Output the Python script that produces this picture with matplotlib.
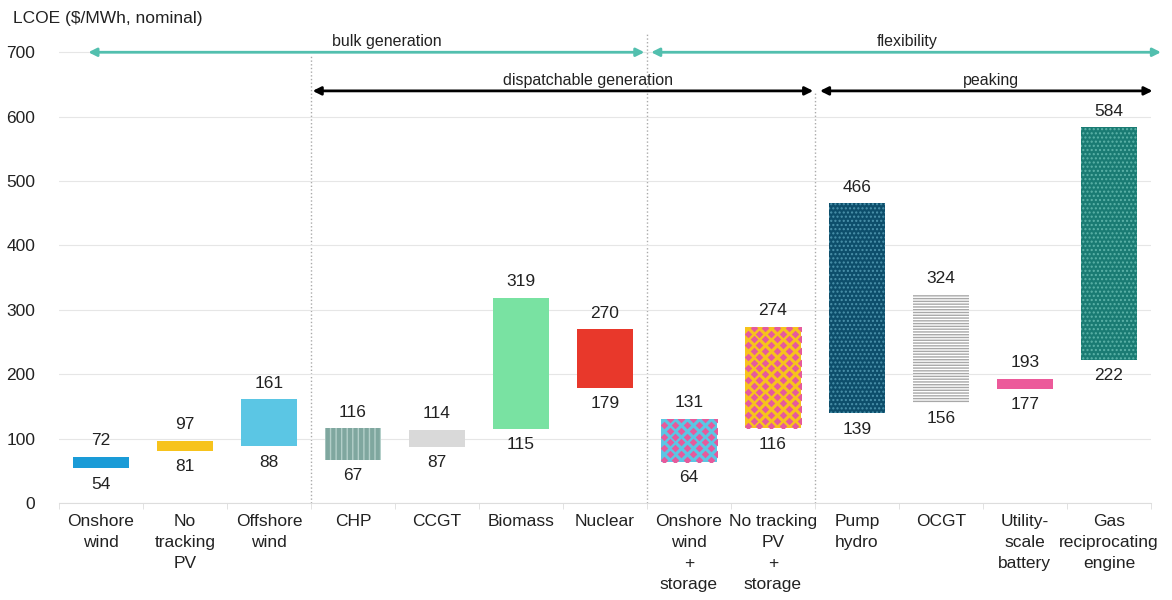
import numpy as np
import matplotlib
matplotlib.use("Agg")
import matplotlib.pyplot as plt

plt.rcParams['font.family'] = ['Liberation Sans', 'DejaVu Sans']
plt.rcParams['hatch.linewidth'] = 1.0

# data
categories = ["Onshore\nwind", "No\ntracking\nPV", "Offshore\nwind", "CHP", "CCGT",
              "Biomass", "Nuclear", "Onshore\nwind\n+\nstorage", "No tracking\nPV\n+\nstorage",
              "Pump\nhydro", "OCGT", "Utility-\nscale\nbattery", "Gas\nreciprocating\nengine"]
low = [54, 81, 88, 67, 87, 115, 179, 64, 116, 139, 156, 177, 222]
high = [72, 97, 161, 116, 114, 319, 270, 131, 274, 466, 324, 193, 584]

# styles: (face, hatch, hatch colour)
styles = [
    ("#1a9bd7", None, None),
    ("#f7c31c", None, None),
    ("#5bc6e4", None, None),
    ("#7fa79f", "|||", "#b3cfc9"),
    ("#d9d9d9", None, None),
    ("#79e2a2", None, None),
    ("#e8382b", None, None),
    ("#5bc6e4", "diamond", "#e65a9c"),
    ("#f7c31c", "diamond", "#e65a9c"),
    ("#0d4e6b", "....", "#4b92ab"),
    ("#ffffff", "------", "#a8a8a8"),
    ("#ec5a9a", None, None),
    ("#1a7b73", "....", "#5cb3a8"),
]

teal = "#52bfae"
fig = plt.figure(figsize=(11.72, 6), dpi=100)
ax = fig.add_axes([0.0503, 0.1617, 0.9317, 0.7834])
x = np.arange(len(categories))
ax.set_xlim(-0.5, len(categories) - 0.5)
ax.set_ylim(0, 730)

bw = 0.66
for i, (lo, hi, st) in enumerate(zip(low, high, styles)):
    face, hatch, hc = st
    if hatch is None:
        ax.bar(x[i], hi - lo, bottom=lo, width=bw, color=face, linewidth=0, zorder=3)
    elif hatch == "diamond":
        b = ax.bar(x[i], hi - lo, bottom=lo, width=bw, color=face, linewidth=0, zorder=3)[0]
        dx, dy = 0.14, 18.0
        xs, ys = [], []
        for r, yy in enumerate(np.arange(lo + 3, hi + dy, dy / 2)):
            off = 0.03 if r % 2 == 0 else 0.03 + dx / 2
            for xx in np.arange(x[i] - bw / 2 + off, x[i] + bw / 2 + dx, dx):
                xs.append(xx)
                ys.append(yy)
        sc = ax.scatter(xs, ys, marker='D', s=15, color=hc, linewidths=0, zorder=4)
        sc.set_clip_path(b)
    else:
        ax.bar(x[i], hi - lo, bottom=lo, width=bw, color=face, edgecolor=hc,
               hatch=hatch, linewidth=0, zorder=3)
    ax.annotate(str(hi), (x[i], hi), xytext=(0, 6), textcoords='offset points',
                ha='center', va='bottom', fontsize=12.5, color='#222222')
    ax.annotate(str(lo), (x[i], lo), xytext=(0, -6), textcoords='offset points',
                ha='center', va='top', fontsize=12.5, color='#222222')

# axes styling
ax.set_yticks(np.arange(0, 701, 100))
ax.tick_params(axis='y', length=0, pad=17, labelsize=12.5, labelcolor='#222222')
ax.set_xticks(x)
ax.set_xticklabels(categories, fontsize=12.5, color='#222222', linespacing=1.5)
ax.set_xticks(np.arange(-0.5, len(categories)), minor=True)
ax.tick_params(axis='x', which='major', length=0, pad=8)
ax.tick_params(axis='x', which='minor', length=4, color='#dddddd')
ax.grid(axis='y', color='#e6e6e6', linewidth=0.8, zorder=0)
for s in ['top', 'right', 'left']:
    ax.spines[s].set_visible(False)
ax.spines['bottom'].set_color('#dddddd')

# group separators
ax.plot([2.5, 2.5], [0, 698], ls=':', color='#aaaaaa', lw=1, zorder=1)
ax.plot([6.5, 6.5], [0, 728], ls=':', color='#aaaaaa', lw=1, zorder=1, clip_on=False)
ax.plot([8.5, 8.5], [0, 640], ls=':', color='#aaaaaa', lw=1, zorder=1)

# group arrows
groups = [("bulk generation", -0.15, 6.47, 700, teal, 3.4),
          ("flexibility", 6.55, 12.62, 700, teal, 9.6),
          ("dispatchable generation", 2.52, 8.48, 640, "black", 5.8),
          ("peaking", 8.56, 12.52, 640, "black", 10.6)]
for name, x0, x1, yy, col, tx in groups:
    ax.annotate('', xy=(x1, yy), xytext=(x0, yy),
                arrowprops=dict(arrowstyle='<|-|>', color=col, lw=2, mutation_scale=12,
                                shrinkA=0, shrinkB=0),
                annotation_clip=False, zorder=5)
    ax.text(tx, yy + 5, name, ha='center', va='bottom', fontsize=11.5, color='#222222')

fig.text(0.011, 0.97, "LCOE ($/MWh, nominal)", ha='left', va='center', fontsize=12.5,
         color='#222222')

fig.savefig("out.png", dpi=100)
